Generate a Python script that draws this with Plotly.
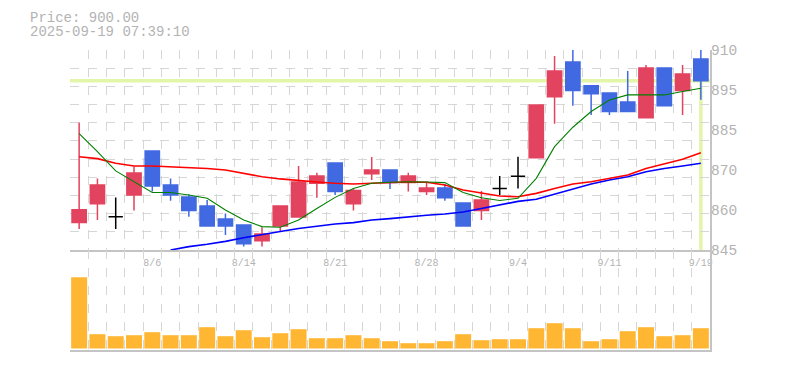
import numpy as np
import plotly.graph_objects as go

# ---------------- data ----------------
dates = ["7/31", "8/1", "8/4", "8/5", "8/6", "8/7", "8/8", "8/12", "8/13", "8/14",
         "8/15", "8/18", "8/19", "8/20", "8/21", "8/22", "8/25", "8/26", "8/27", "8/28",
         "8/29", "9/1", "9/2", "9/3", "9/4", "9/5", "9/8", "9/9", "9/10", "9/11",
         "9/12", "9/16", "9/17", "9/18", "9/19"]

opens = [853.9, 860.0, 855.8, 862.9, 877.2, 866.1, 862.2, 859.3, 855.1, 853.1,
         848.0, 852.8, 855.7, 866.7, 873.3, 860.0, 869.8, 871.0, 866.9, 864.0,
         865.15, 860.3, 857.8, 865.0, 869.0, 875.0, 894.8, 906.1, 898.4, 896.0,
         893.1, 888.0, 904.15, 896.8, 907.1]
highs = [886.4, 868.2, 862.1, 872.1, 877.2, 868.2, 863.1, 861.25, 856.9, 853.1,
         852.4, 859.3, 872.3, 870.1, 873.3, 865.0, 875.2, 871.0, 870.1, 867.2,
         866.45, 860.3, 864.2, 869.05, 875.3, 892.1, 908.05, 911.0, 898.4, 896.0,
         903.2, 905.1, 904.15, 905.1, 911.0]
lows = [851.8, 854.75, 851.8, 857.8, 864.0, 861.0, 855.8, 852.8, 849.9, 846.1,
        846.1, 851.0, 855.7, 862.0, 862.9, 857.8, 867.75, 864.8, 864.0, 862.9,
        861.0, 852.8, 854.75, 862.9, 865.0, 875.0, 886.05, 891.9, 888.9, 888.9,
        890.0, 888.0, 891.9, 888.9, 893.85]
closes = [858.1, 866.1, 855.8, 870.0, 865.8, 862.9, 857.8, 852.8, 852.8, 847.0,
          850.2, 859.3, 867.1, 869.05, 864.0, 864.3, 871.0, 866.9, 869.05, 865.15,
          862.0, 852.8, 861.25, 865.0, 869.0, 892.1, 903.2, 896.8, 895.8, 890.0,
          890.0, 904.15, 891.9, 902.2, 900.0]

volumes = [7130, 1430, 1230, 1330, 1630, 1330, 1330, 2130, 1230, 1830,
           1130, 1530, 1930, 1030, 1030, 1330, 1030, 730, 530, 530,
           730, 1430, 830, 930, 930, 2030, 2530, 2030, 730, 930,
           1730, 2130, 1230, 1330, 2030]

ma_short = [882.8, 877.0, 870.7, 867.2, 863.7, 863.7, 862.9, 861.8, 858.0, 854.75,
            852.6, 852.4, 854.75, 858.5, 862.1, 865.0, 866.7, 867.0, 867.2, 867.1,
            866.9, 863.7, 862.0, 861.1, 861.8, 868.3, 878.6, 884.9, 890.0, 893.75,
            895.4, 895.4, 895.4, 896.5, 897.55]
ma_mid = [875.3, 874.7, 873.2, 872.3, 872.3, 872.0, 871.9, 871.5, 871.0, 869.9,
          868.8, 868.1, 867.5, 867.1, 866.7, 866.45, 866.7, 866.9, 867.1, 867.0,
          866.1, 864.5, 863.4, 862.55, 862.3, 863.4, 865.0, 866.45, 867.2, 868.3,
          869.4, 871.5, 873.0, 874.5, 876.6]
ma_long = [None, None, None, None, None, 845.0, 846.1, 846.85, 847.8, 849.0,
           850.1, 851.0, 852.0, 852.8, 853.45, 853.9, 854.75, 855.2, 855.8, 856.3,
           856.7, 857.35, 858.5, 859.6, 860.8, 861.5, 863.2, 864.7, 866.45, 867.75,
           868.8, 870.45, 871.5, 872.3, 873.2]

label_dates = ["8/6", "8/14", "8/21", "8/28", "9/4", "9/11", "9/19"]
price_range = [845, 910]
price_labels = ["845", "860", "870", "885", "895", "910"]
title_price = "Price: 900.00"
title_time = "2025-09-19 07:39:10"

# ---------------- styling ----------------
RED = "#e2435f"
BLUE = "#4169e1"
ORANGE = "#ffb733"
GRID = "#d6d6d6"
AXIS = "#c4c4c4"
TXT = "#b3b3b3"
PRICE_LINE = "#e2f5a8"
FONT = "Liberation Mono"

idx = list(range(len(dates)))
body_i = [i for i in idx if opens[i] != closes[i]]
doji_i = [i for i in idx if opens[i] == closes[i]]
label_pos = [dates.index(d) for d in label_dates]

fig = go.Figure()

fig.add_trace(go.Candlestick(
    x=body_i,
    open=[opens[i] for i in body_i], high=[highs[i] for i in body_i],
    low=[lows[i] for i in body_i], close=[closes[i] for i in body_i],
    increasing=dict(line=dict(color=RED, width=1.5), fillcolor=RED),
    decreasing=dict(line=dict(color=BLUE, width=1.5), fillcolor=BLUE),
    whiskerwidth=0, xaxis="x", yaxis="y", showlegend=False, hoverinfo="skip"))

fig.add_trace(go.Candlestick(
    x=doji_i,
    open=[opens[i] for i in doji_i], high=[highs[i] for i in doji_i],
    low=[lows[i] for i in doji_i], close=[closes[i] for i in doji_i],
    increasing=dict(line=dict(color="black", width=1.5), fillcolor="black"),
    decreasing=dict(line=dict(color="black", width=1.5), fillcolor="black"),
    whiskerwidth=0, xaxis="x", yaxis="y", showlegend=False, hoverinfo="skip"))

for vals, col, w in [(ma_long, "#0000ff", 1.6), (ma_mid, "#ff0000", 1.6), (ma_short, "#008000", 1.1)]:
    fig.add_trace(go.Scatter(x=idx, y=vals, mode="lines", line=dict(color=col, width=w),
                             xaxis="x", yaxis="y", showlegend=False, hoverinfo="skip",
                             connectgaps=False))

fig.add_trace(go.Bar(x=idx, y=volumes, marker=dict(color=ORANGE, line=dict(width=0)),
                     xaxis="x2", yaxis="y2", showlegend=False, hoverinfo="skip"))

# last price cross-hair
last = len(dates) - 1
fig.add_shape(type="line", xref="paper", yref="y", x0=0, x1=1,
              y0=closes[last], y1=closes[last], line=dict(color=PRICE_LINE, width=3.5),
              layer="below")
fig.add_shape(type="line", xref="x", yref="y", x0=last, x1=last,
              y0=closes[last], y1=price_range[0], line=dict(color=PRICE_LINE, width=3.5),
              layer="below")

xr = [-0.5, len(dates) - 0.5]
minor_x = dict(tick0=-0.5, dtick=1, showgrid=True, gridcolor=GRID, griddash="dash",
               gridwidth=1, ticks="")
grid_vals = list(np.linspace(price_range[0], price_range[1], 12))
label_vals = list(np.linspace(price_range[0], price_range[1], len(price_labels)))

# the page body adds an 8px offset, so margins are reduced by 8px
fig.update_layout(
    width=785, height=370,
    margin=dict(l=62, r=83, t=42, b=28, autoexpand=False),
    paper_bgcolor="white", plot_bgcolor="white",
    boxgap=0.22, boxgroupgap=0, bargap=0.125, boxmode="overlay",
    showlegend=False,
    xaxis=dict(domain=[0, 1], anchor="y", range=xr, tickmode="array",
               tickvals=label_pos, ticktext=label_dates, showgrid=False,
               minor=minor_x, showline=True, linecolor=AXIS, linewidth=2,
               ticks="", tickfont=dict(family=FONT, size=10, color=TXT),
               ticklabelstandoff=2,
               zeroline=False, automargin=False,
               rangeslider=dict(visible=False), fixedrange=True),
    xaxis2=dict(domain=[0, 1], anchor="y2", range=xr, matches="x",
                showticklabels=False, showgrid=False, minor=minor_x, automargin=False,
                showline=True, linecolor=AXIS, linewidth=2, ticks="", zeroline=False),
    yaxis=dict(domain=[1/3, 1], anchor="x", range=price_range, side="right",
               tickmode="array", tickvals=grid_vals, showticklabels=False,
               showgrid=True, gridcolor=GRID, griddash="dash", gridwidth=1,
               automargin=False,
               showline=True, linecolor=AXIS, linewidth=2, ticks="", zeroline=False),
    yaxis3=dict(overlaying="y", anchor="x", range=price_range, side="right",
                tickmode="array", tickvals=label_vals, ticktext=price_labels,
                showgrid=False, showline=False, ticks="", zeroline=False,
                automargin=False,
                tickfont=dict(family=FONT, size=14.5, color=TXT)),
    yaxis2=dict(domain=[0, 1/3], anchor="x2", range=[-150, 9850], side="right",
                showticklabels=False, showgrid=False, showline=True, linecolor=AXIS,
                linewidth=2, ticks="", zeroline=False, automargin=False),
    annotations=[
        dict(text=title_price, xref="paper", yref="paper", x=-0.0656, y=1.108,
             xanchor="left", yanchor="middle", showarrow=False,
             font=dict(family=FONT, size=14, color=TXT)),
        dict(text=title_time, xref="paper", yref="paper", x=-0.0656, y=1.059,
             xanchor="left", yanchor="middle", showarrow=False,
             font=dict(family=FONT, size=14, color=TXT)),
    ],
)

# invisible trace to keep the label axis alive
fig.add_trace(go.Scatter(x=[xr[0]], y=[price_range[0]], mode="markers",
                         marker=dict(opacity=0), xaxis="x", yaxis="y3",
                         showlegend=False, hoverinfo="skip"))

fig.write_html("out.html")
